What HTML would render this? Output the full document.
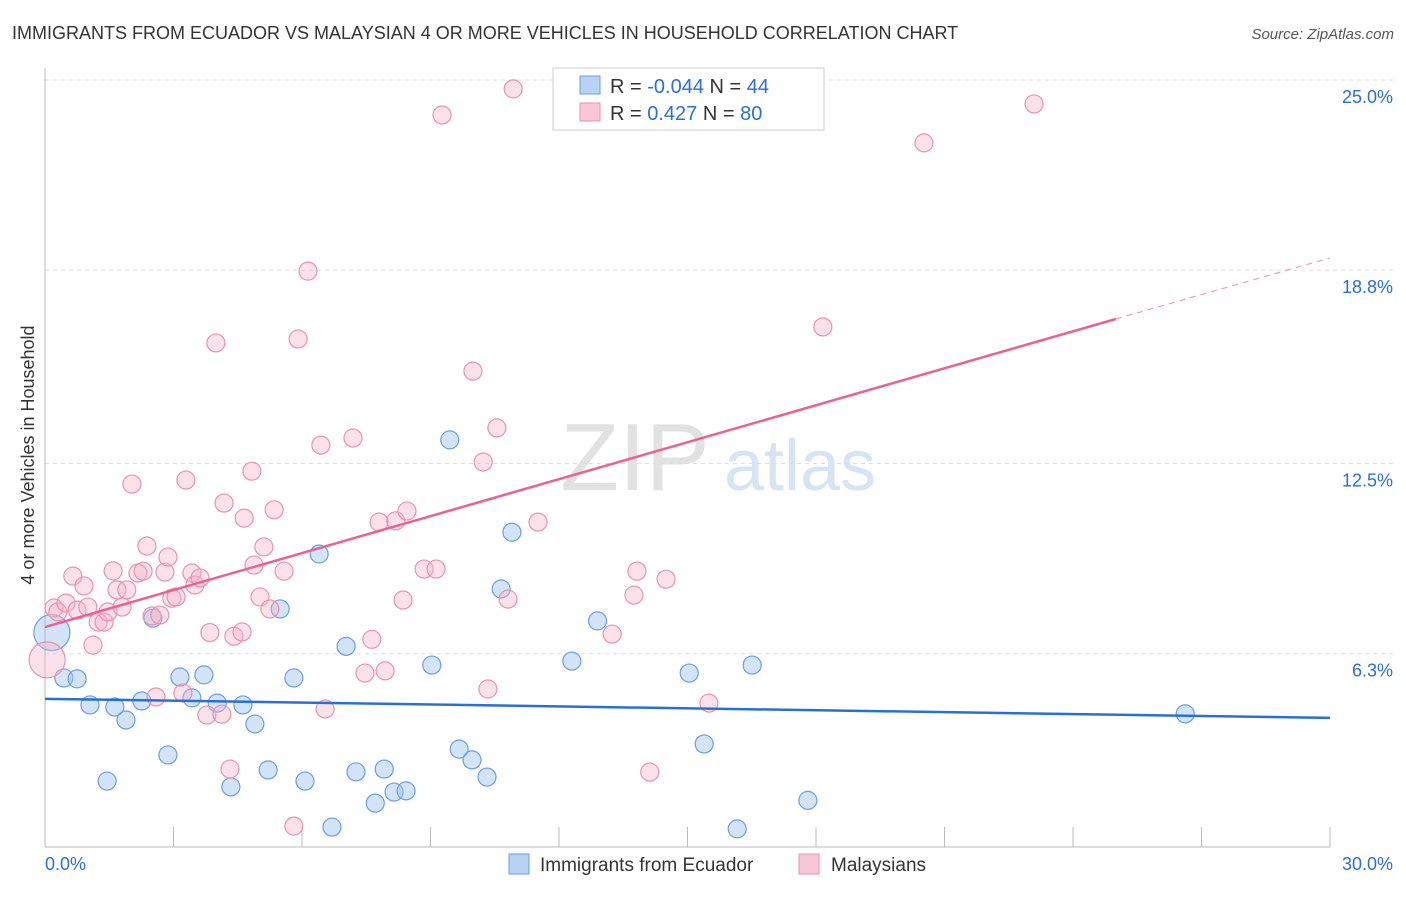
<!DOCTYPE html>
<html><head><meta charset="utf-8"><style>
body{margin:0;background:#fff;font-family:"Liberation Sans",sans-serif;}
svg text{font-family:"Liberation Sans",sans-serif;}
</style></head><body>
<svg id="chart" width="1406" height="892" xmlns="http://www.w3.org/2000/svg">
<text x="12" y="39" font-size="18" fill="#333">IMMIGRANTS FROM ECUADOR VS MALAYSIAN 4 OR MORE VEHICLES IN HOUSEHOLD CORRELATION CHART</text>
<text x="1394" y="39" font-size="15" fill="#555" font-style="italic" text-anchor="end">Source: ZipAtlas.com</text>
<g>
<text x="635" y="490" font-size="96" fill="#e2e2e2" font-family="Liberation Serif" text-anchor="middle">ZIP</text>
<text x="800" y="490" font-size="72" fill="#d6e4f5" text-anchor="middle">atlas</text>
</g>
<g id="grid"></g>
<g id="axes"></g>
<g id="pts"></g>
<g id="lines"></g>
<text transform="translate(34,455) rotate(-90)" font-size="18" fill="#333" text-anchor="middle">4 or more Vehicles in Household</text>
<g>
<rect x="553" y="68" width="271" height="62" fill="#fff" stroke="#ccc"/>
<rect x="580" y="76" width="20" height="18" fill="#b8d2f3" stroke="#6a9ee0"/>
<rect x="580" y="103" width="20" height="18" fill="#f8c6d6" stroke="#e893ae"/>
<text x="610" y="93" font-size="20" fill="#333">R = <tspan fill="#2a6fd6">-0.044</tspan>   N = <tspan fill="#2a6fd6">44</tspan></text>
<text x="610" y="120" font-size="20" fill="#333">R =   <tspan fill="#2a6fd6">0.427</tspan>   N = <tspan fill="#2a6fd6">80</tspan></text>
</g>
<g>
<rect x="509" y="854" width="20" height="20" fill="#b8d2f3" stroke="#6a9ee0"/>
<text x="540" y="871" font-size="19" fill="#333">Immigrants from Ecuador</text>
<rect x="799" y="854" width="20" height="20" fill="#f8c6d6" stroke="#e893ae"/>
<text x="831" y="871" font-size="19" fill="#333">Malaysians</text>
</g>
</svg>
<script>
const yTicks=[6.3,12.5,18.8,25.0];
const xTickLabels=["0.0%","30.0%"];
const blueX=[0.16,0.44,0.75,1.05,1.45,1.63,1.89,2.26,2.52,2.87,3.15,3.43,3.71,4.02,4.34,4.62,4.90,5.21,5.49,5.81,6.07,6.40,6.70,7.03,7.26,7.71,7.92,8.15,8.43,9.03,9.45,9.67,9.97,10.32,10.65,10.90,12.30,12.90,15.04,15.39,16.16,16.51,17.81,26.62];
const blueY=[6.99,5.51,5.48,4.63,2.15,4.56,4.14,4.76,7.46,3.00,5.54,4.86,5.61,4.69,1.96,4.63,4.01,2.51,7.76,5.51,2.15,9.55,0.65,6.54,2.45,1.43,2.54,1.79,1.83,5.93,13.27,3.19,2.84,2.28,8.41,10.26,6.06,7.37,5.67,3.36,0.59,5.93,1.52,4.34];
const pinkX=[0.05,0.21,0.30,0.49,0.65,0.75,0.91,1.00,1.12,1.24,1.38,1.47,1.59,1.68,1.80,1.91,2.03,2.17,2.29,2.38,2.50,2.59,2.68,2.80,2.87,2.96,3.06,3.22,3.29,3.43,3.50,3.62,3.78,3.85,3.99,4.13,4.18,4.32,4.41,4.60,4.65,4.83,4.88,5.02,5.11,5.25,5.35,5.58,5.81,5.91,6.14,6.44,6.54,7.19,7.47,7.63,7.80,7.94,8.19,8.36,8.45,8.85,9.13,9.27,9.99,10.23,10.34,10.55,10.81,10.93,11.51,13.24,13.75,13.82,14.12,14.50,15.50,18.16,20.52,23.09];
const pinkY=[6.10,7.79,7.66,7.95,8.83,7.72,8.51,7.82,6.58,7.33,7.33,7.66,9.00,8.38,7.82,8.38,11.83,8.93,8.99,9.81,7.53,4.89,7.56,8.96,9.45,8.11,8.15,5.02,11.96,8.93,8.54,8.77,4.30,6.99,16.43,4.33,11.21,2.54,6.87,7.01,10.72,12.25,9.19,8.15,9.78,7.76,10.99,8.99,0.68,16.56,18.77,13.10,4.50,13.33,5.67,6.77,10.59,5.74,10.63,8.05,10.95,9.06,9.06,23.86,15.51,12.55,5.15,13.66,8.08,24.71,10.59,6.94,8.21,8.99,2.44,8.73,4.69,16.95,22.95,24.22];
const blueLine=[[0,4.83],[30,4.21]];
const pinkLine=[[0,7.17],[25,17.21],[30,19.20]];
const X0=45,X1=1330,Y0=847,YS=30.68;
const sx=v=>X0+v*(X1-X0)/30, sy=v=>Y0-v*YS;
const NS="http://www.w3.org/2000/svg";
function mk(p,t,a){const e=document.createElementNS(NS,t);for(const k in a)e.setAttribute(k,a[k]);p.appendChild(e);return e;}
const grid=document.getElementById('grid'),axes=document.getElementById('axes'),pts=document.getElementById('pts'),lines=document.getElementById('lines');
mk(grid,'line',{x1:X0,x2:1394,y1:sy(25),y2:sy(25),stroke:'#ddd','stroke-dasharray':'4,4'});
yTicks.forEach(t=>{
 const g=mk(grid,'line',{x1:X0,x2:1394,y1:sy(t),y2:sy(t),stroke:'#ddd','stroke-dasharray':'4,4'});
 
 
 const tx=mk(axes,'text',{x:1393,y:sy(t)+23,'font-size':18,fill:'#2a6fd6','text-anchor':'end'});
 tx.textContent=t.toFixed(1)+'%';
 
 
});
mk(axes,'line',{x1:X0,x2:X0,y1:68,y2:Y0,stroke:'#bbb'});
mk(axes,'line',{x1:X0,x2:X1,y1:Y0,y2:Y0,stroke:'#bbb'});
for(let i=0;i<=10;i++){mk(axes,'line',{x1:sx(i*3),x2:sx(i*3),y1:827,y2:Y0,stroke:'#bbb'});}
const l0=mk(axes,'text',{x:45,y:870,'font-size':18,fill:'#2a6fd6'});l0.textContent=xTickLabels[0];


const l1=mk(axes,'text',{x:1393,y:870,'font-size':18,fill:'#2a6fd6','text-anchor':'end'});l1.textContent=xTickLabels[1];


blueX.forEach((x,i)=>{
 const c=mk(pts,'circle',{cx:sx(x),cy:sy(blueY[i]),r:i==0?18:9,fill:'rgba(160,196,240,0.45)',stroke:'#6a9ee0','stroke-width':1.2});
 
 
});
pinkX.forEach((x,i)=>{
 const c=mk(pts,'circle',{cx:sx(x),cy:sy(pinkY[i]),r:i==0?18:9,fill:'rgba(245,180,200,0.4)',stroke:'#e893ae','stroke-width':1.2});
 
 
});
const bl=mk(lines,'line',{x1:sx(blueLine[0][0]),y1:sy(blueLine[0][1]),x2:sx(blueLine[1][0]),y2:sy(blueLine[1][1]),stroke:'#2a6fd6','stroke-width':2.5});


const pl=mk(lines,'line',{x1:sx(pinkLine[0][0]),y1:sy(pinkLine[0][1]),x2:sx(pinkLine[1][0]),y2:sy(pinkLine[1][1]),stroke:'#e8648e','stroke-width':2.5});


const pd=mk(lines,'line',{x1:sx(pinkLine[1][0]),y1:sy(pinkLine[1][1]),x2:sx(pinkLine[2][0]),y2:sy(pinkLine[2][1]),stroke:'#e8a0b8','stroke-width':1.2,'stroke-dasharray':'6,5'});


</script>
</body></html>
